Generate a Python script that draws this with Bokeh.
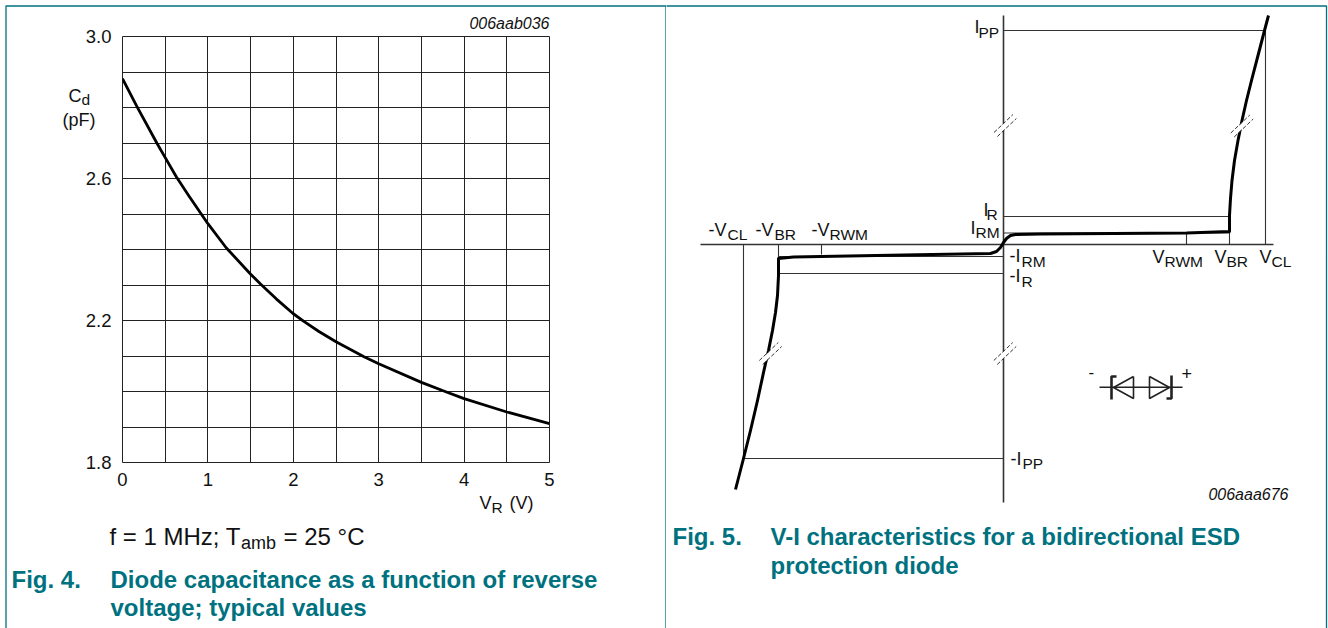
from bokeh.plotting import figure
from bokeh.layouts import row
from bokeh.models import Label, BoxAnnotation, FixedTicker, Range1d
from bokeh.embed import file_html
from bokeh.resources import INLINE

FONT = "Liberation Sans"
TEAL = "#00727f"
INK = "#222222"

# Fig. 4 data: diode capacitance vs. reverse voltage
vr = [0, 0.171, 0.405, 0.502, 0.63, 0.774, 0.922, 1, 1.214, 1.498, 1.619, 1.8, 2, 2.128, 2.3, 2.5, 2.828, 3, 3.5, 3.785, 4, 4.5, 5]
cd = [2.881, 2.8016, 2.6985, 2.658, 2.6048, 2.5523, 2.4998, 2.4727, 2.405, 2.331, 2.302, 2.261, 2.219, 2.197, 2.169,
      2.14, 2.098, 2.0782, 2.0257, 1.9994, 1.9798, 1.9423, 1.9095]
x_major = [0, 1, 2, 3, 4, 5]
x_minor = [0.5, 1.5, 2.5, 3.5, 4.5]
y_major = [1.8, 2.2, 2.6, 3.0]
y_minor = [1.9, 2.0, 2.1, 2.3, 2.4, 2.5, 2.7, 2.8, 2.9]

# Fig. 5 data: schematic V-I curve (arbitrary units, origin at the axes crossing)
v_curve = [-268, -260, -253, -246, -240, -235, -231, -228, -226, -225, -225, -210, -100, -13, -7, -3, 0, 3, 7, 12, 37,
           183, 226, 226, 227, 228.5, 231, 234.5, 238.5, 243, 248, 254.5, 261, 265]
i_curve = [-245, -214, -186, -156, -128, -106, -86, -68, -51, -31, -14, -12.5, -10.5, -9, -7, -3, 2, 6, 9, 10, 10.5,
           11.5, 13, 29, 46, 64, 84, 104, 124, 144, 164, 189, 214, 229]
v_levels = [-260, -225, -182, 183, 226, 262]
v_tops = [-214, -14, -10, 12, 13, 214]
i_levels = [214, 28, 11.5, -12, -29, -214]
i_lefts = [0, 0, 0, -225, -225, -260]
i_rights = [262, 226, 226, 0, 0, 0]
break_v = [1.7, 238.5, 1.5, -233]
break_i = [119, 118.5, -109, -109]

# Left chart: transparent, laid over a full-size panel that carries the free texts
chart = figure(width=666, height=628, x_range=Range1d(0, 5), y_range=Range1d(1.8, 3.0),
               output_backend="svg", toolbar_location=None, frame_align=False,
               min_border_left=122, min_border_right=117, min_border_top=36, min_border_bottom=166,
               background_fill_color=None, border_fill_color=None, margin=(0, 0, 0, -666))
chart.outline_line_color = INK
for ax, major, minor in ((chart.xaxis[0], x_major, x_minor), (chart.yaxis[0], y_major, y_minor)):
    ax.ticker = FixedTicker(ticks=major, minor_ticks=minor)
    ax.major_tick_line_color = None
    ax.minor_tick_line_color = None
    ax.axis_line_color = None
    ax.major_label_text_font = FONT
    ax.major_label_text_font_size = "18.5px"
    ax.major_label_text_color = "#111111"
chart.yaxis[0].major_label_standoff = 5
chart.xaxis[0].major_label_standoff = 4
chart.yaxis[0].major_label_overrides = {v: f"{v:.1f}" for v in y_major}
chart.xaxis[0].major_label_overrides = {v: str(v) for v in x_major}
for g in (chart.xgrid[0], chart.ygrid[0]):
    g.grid_line_color = INK
    g.grid_line_width = 1
    g.minor_grid_line_color = INK
    g.minor_grid_line_width = 1
chart.line(vr, cd, line_color="black", line_width=2.8, line_join="round")

left = figure(width=666, height=628, x_range=Range1d(0, 666), y_range=Range1d(0, 628),
              x_axis_type=None, y_axis_type=None, frame_align=False,
              output_backend="svg", toolbar_location=None,
              min_border=0, background_fill_color="white", border_fill_color="white")
left.outline_line_color = None
left.grid.visible = False

right = figure(width=662, height=628, x_range=Range1d(-337, 325), y_range=Range1d(-384, 244),
               x_axis_type=None, y_axis_type=None, frame_align=False,
               output_backend="svg", toolbar_location=None,
               min_border=0, background_fill_color="white", border_fill_color="white")
right.outline_line_color = None
right.grid.visible = False


def panel(p, l, r):
    p.add_layout(BoxAnnotation(left=l, right=r, top=5.5, bottom=700, left_units="canvas", right_units="canvas",
                               top_units="canvas", bottom_units="canvas", fill_alpha=0, level="overlay",
                               line_color=TEAL, line_alpha=1, line_width=1.3))


panel(left, 5.5, 665.5)
panel(right, -5, 660)


def txt(p, xoff, x, y, t, size=17.5, color="#111111", style="normal", align="left"):
    p.add_layout(Label(x=x - xoff, y=y - 0.37 * size, x_units="canvas", y_units="canvas", text=t, text_font=FONT,
                       text_font_size=f"{size}px", text_color=color, text_font_style=style, level="overlay",
                       text_align=align, text_baseline="alphabetic"))


def L(*a, **k):
    txt(left, 0, *a, **k)


def R(*a, **k):
    txt(right, 666, *a, **k)


# Left panel texts
L(549, 29, "006aab036", size=16, style="italic", align="right")
L(68, 102, "C", size=18); L(81, 105, "d", size=15.5)
L(62, 126, "(pF)", size=18)
L(479, 509, "V", size=18); L(491, 513, "R", size=15.5); L(509, 509, "(V)", size=18)
L(109, 545, "f = 1 MHz; T", size=24); L(240.5, 549.5, "amb", size=18); L(283, 545, "= 25 °C", size=24)
L(11, 588, "Fig. 4.", size=24, color=TEAL, style="bold")
L(110, 588, "Diode capacitance as a function of reverse", size=24, color=TEAL, style="bold")
L(110, 616, "voltage; typical values", size=24, color=TEAL, style="bold")

# Right panel: axes and reference lines
right.segment(x0=[-303, 0], y0=[0, -258], x1=[270, 0], y1=[0, 229], line_color="#333333", line_width=1.6)
right.segment(x0=v_levels, y0=v_tops, x1=v_levels, y1=[0] * 6, line_color="#333333", line_width=1.1)
right.segment(x0=i_lefts, y0=i_levels, x1=i_rights, y1=i_levels, line_color="#333333", line_width=1.1)
right.line(v_curve, i_curve, line_color="black", line_width=3, line_join="round")

# Axis break marks
bx0 = [v - 9.5 for v in break_v]
bx1 = [v + 9.5 for v in break_v]
by0 = [i - 9 for i in break_i]
by1 = [i + 9 for i in break_i]
right.segment(bx0, by0, bx1, by1, line_color="white", line_width=4.5)
for d in (-1, 1):
    right.segment([v + 1.7 * d for v in bx0], [i - 2 * d for i in by0], [v + 1.7 * d for v in bx1],
                  [i - 2 * d for i in by1], line_color="#333333", line_width=1, line_dash="4 2")

# Diode symbol, bidirectional
dx, dy = 1003, 244
right.line([1099 - dx, 1182 - dx], [dy - 386.7] * 2, line_color=INK, line_width=1.5)
right.line([1133 - dx, 1113 - dx, 1133 - dx, 1133 - dx], [dy - 376, dy - 387, dy - 398, dy - 376],
           line_color=INK, line_width=1.6)
right.line([1149 - dx, 1169 - dx, 1149 - dx, 1149 - dx], [dy - 376, dy - 387, dy - 398, dy - 376],
           line_color=INK, line_width=1.6)
right.line([1116 - dx, 1111 - dx, 1111 - dx], [dy - 376, dy - 376, dy - 399], line_color=INK, line_width=2.6)
right.line([1166 - dx, 1171 - dx, 1171 - dx], [dy - 398, dy - 398, dy - 375], line_color=INK, line_width=2.6)
R(1088, 378, "-", size=17); R(1181, 380, "+", size=18)

# Right panel texts
R(974, 33, "I", size=18); R(978, 38, "PP", size=15.5)
R(708, 236, "-V", size=18); R(727, 240, "CL", size=15.5)
R(755, 236, "-V", size=18); R(774, 240, "BR", size=15.5)
R(811, 236, "-V", size=18); R(829, 240, "RWM", size=15.5)
R(983, 216, "I", size=18); R(986, 220, "R", size=15.5)
R(970, 234, "I", size=18); R(975, 238, "RM", size=15.5)
R(1009, 262, "-I", size=18); R(1021, 267, "RM", size=15.5)
R(1009, 282, "-I", size=18); R(1021, 287, "R", size=15.5)
R(1010, 465, "-I", size=18); R(1022, 469, "PP", size=15.5)
R(1152, 263, "V", size=18); R(1164, 267, "RWM", size=15.5)
R(1214, 263, "V", size=18); R(1226, 267, "BR", size=15.5)
R(1259, 263, "V", size=18); R(1271, 267, "CL", size=15.5)
R(1288, 500, "006aaa676", size=16, style="italic", align="right")
R(672, 545, "Fig. 5.", size=24, color=TEAL, style="bold")
R(770, 545, "V-I characteristics for a bidirectional ESD", size=24, color=TEAL, style="bold")
R(770, 574, "protection diode", size=24, color=TEAL, style="bold")

p = row(left, chart, right, spacing=0)
open("out.html", "w").write(file_html(p, INLINE))
